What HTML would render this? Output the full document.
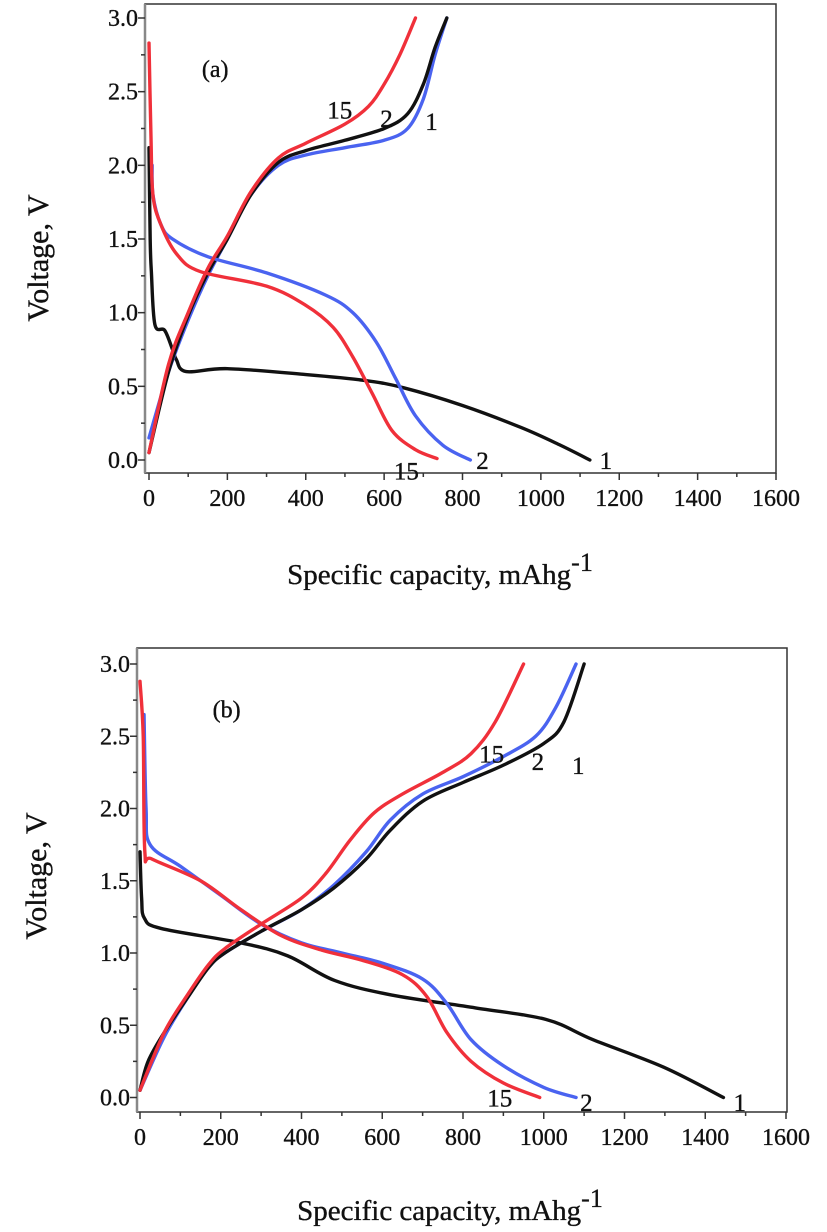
<!DOCTYPE html>
<html><head><meta charset="utf-8"><style>
html,body{margin:0;padding:0;background:#fff}
svg{display:block}
text{font-family:"Liberation Serif",serif;fill:#111;stroke:#111;stroke-width:0.35}
</style></head><body>
<svg id="chart" width="827" height="1232" viewBox="0 0 827 1232" xmlns="http://www.w3.org/2000/svg"></svg>
<script>
// ---- data (capacity mAh/g, voltage V) ----
const xTicks=[0,200,400,600,800,1000,1200,1400,1600];
const yTicks=[0.0,0.5,1.0,1.5,2.0,2.5,3.0];
// Panel a
const aDis1Cap=[0,3,6,15,40,60,70,95,200,400,550,650,800,950,1050,1125];
const aDis1V=[2.12,1.5,1.28,0.92,0.88,0.75,0.68,0.6,0.62,0.58,0.54,0.49,0.37,0.22,0.1,0.0];
const aCha1Cap=[0,50,100,150,200,260,330,400,500,600,660,700,730,760];
const aCha1V=[0.05,0.6,0.98,1.27,1.5,1.8,2.02,2.1,2.17,2.25,2.35,2.55,2.8,3.0];
const aCha2Cap=[0,50,100,150,200,260,330,400,500,600,660,700,730,760];
const aCha2V=[0.15,0.6,0.95,1.25,1.5,1.8,2.0,2.07,2.12,2.17,2.25,2.45,2.75,3.0];
const aCha15Cap=[0,50,100,150,200,260,330,400,500,560,600,640,680];
const aCha15V=[0.05,0.65,1.0,1.3,1.52,1.82,2.05,2.15,2.28,2.4,2.55,2.75,3.0];
const aDis2Cap=[8,10,30,60,150,300,450,520,580,630,680,750,820];
const aDis2V=[2.0,1.8,1.6,1.5,1.38,1.27,1.12,1.0,0.8,0.55,0.3,0.1,0.0];
const aDis15Cap=[0,5,10,30,70,130,300,400,470,520,570,620,680,735];
const aDis15V=[2.83,2.2,1.8,1.6,1.4,1.28,1.18,1.05,0.9,0.7,0.45,0.2,0.07,0.01];
// Panel b
const bDis1Cap=[0,4,11,52,250,366,482,622,831,1006,1122,1297,1445];
const bDis1V=[1.7,1.38,1.24,1.17,1.07,0.98,0.81,0.71,0.62,0.54,0.4,0.21,0.0];
const bCha1Cap=[0,20,60,120,170,210,300,400,480,560,620,700,800,900,1000,1050,1100];
const bCha1V=[0.05,0.25,0.45,0.7,0.9,1.0,1.15,1.3,1.45,1.65,1.85,2.05,2.18,2.3,2.45,2.6,3.0];
const bCha2Cap=[0,60,120,170,210,300,400,480,560,620,700,800,900,980,1030,1080];
const bCha2V=[0.05,0.42,0.7,0.9,1.0,1.15,1.3,1.47,1.7,1.92,2.1,2.22,2.36,2.5,2.7,3.0];
const bCha15Cap=[0,60,120,170,210,300,400,460,520,580,650,750,820,880,950];
const bCha15V=[0.05,0.45,0.72,0.92,1.03,1.2,1.38,1.55,1.78,1.97,2.1,2.25,2.38,2.6,3.0];
const bDis2Cap=[10,15,25,100,200,300,400,500,600,700,760,820,900,1000,1080];
const bDis2V=[2.65,2.0,1.75,1.6,1.4,1.2,1.07,1.0,0.93,0.82,0.65,0.4,0.22,0.07,0.0];
const bDis15Cap=[0,8,12,30,150,250,350,450,550,650,710,760,820,900,990];
const bDis15V=[2.88,2.5,1.7,1.65,1.5,1.3,1.12,1.02,0.95,0.85,0.7,0.45,0.25,0.1,0.0];

const NS="http://www.w3.org/2000/svg";
const svg=document.getElementById('chart');
function mk(tag,attrs,parent){const e=document.createElementNS(NS,tag);for(const k in attrs)e.setAttribute(k,attrs[k]);(parent||svg).appendChild(e);return e;}
function smooth(pts){let d="M"+pts[0][0]+","+pts[0][1];for(let i=0;i<pts.length-1;i++){const p0=pts[i-1]||pts[i],p1=pts[i],p2=pts[i+1],p3=pts[i+2]||p2;
const c1x=p1[0]+(p2[0]-p0[0])/6,c1y=p1[1]+(p2[1]-p0[1])/6,c2x=p2[0]-(p3[0]-p1[0])/6,c2y=p2[1]-(p3[1]-p1[1])/6;
d+=` C${c1x},${c1y} ${c2x},${c2y} ${p2[0]},${p2[1]}`;}return d;}

function panel(cfg){
  const g=mk('g',{});
  
  
  const X=v=>cfg.x0+(v/1600)*(cfg.x1-cfg.x0);
  const Y=v=>cfg.y0-(v/3)*(cfg.y0-cfg.y3);
  const fr=mk('rect',{x:cfg.fl,y:cfg.ft,width:cfg.fr-cfg.fl,height:cfg.fb-cfg.ft,fill:'none',stroke:'#333','stroke-width':1.5},g);
  
  
  const ya=mk('line',{x1:cfg.fl,y1:cfg.ft,x2:cfg.fl,y2:cfg.fb,stroke:'#888','stroke-width':2.5},g);
  
  
  for(let v=0;v<=1600;v+=100){const major=v%200===0;mk('line',{x1:X(v),x2:X(v),y1:cfg.fb,y2:cfg.fb+(major?7:4),stroke:'#333','stroke-width':1.5},g);}
  xTicks.forEach(v=>{const t=mk('text',{x:X(v),y:cfg.fb+33,'text-anchor':'middle','font-size':24},g);t.textContent=v;
    
    });
  for(let v=0;v<=3.0001;v+=0.25){const major=Math.abs(v*2-Math.round(v*2))<1e-6;mk('line',{x1:cfg.fl-(major?7:4),x2:cfg.fl,y1:Y(v),y2:Y(v),stroke:'#333','stroke-width':1.5},g);}
  yTicks.forEach(v=>{const t=mk('text',{x:cfg.fl-7,y:Y(v)+8,'text-anchor':'end','font-size':24},g);t.textContent=v.toFixed(1);
    
    });
  cfg.series.forEach(s=>{const pts=s.c.map((c,i)=>[X(c),Y(s.v[i])]);
    const p=mk('path',{d:smooth(pts),fill:'none',stroke:s.col,'stroke-width':3.4,'stroke-linejoin':'round','stroke-linecap':'round'},g);
    
    });
  cfg.labels.forEach(l=>{const t=mk('text',{x:X(l[0]),y:Y(l[1])+9,'font-size':25},g);t.textContent=l[2];
    
    });
  const pl=mk('text',{x:X(cfg.tag[0]),y:Y(cfg.tag[1]),'font-size':24},g);pl.textContent=cfg.tag[2];
  
  
  const xt=mk('text',{x:cfg.xtx,y:cfg.xty,'text-anchor':'middle','font-size':29},g);
  xt.innerHTML='Specific capacity, mAhg<tspan dy="-13" font-size="26">-1</tspan>';
  
  
  const yt=mk('text',{x:0,y:0,'text-anchor':'middle','font-size':30,transform:`translate(${cfg.ytx},${cfg.yty}) rotate(-90)`},g);
  yt.textContent='Voltage, V';
  
  
}
const K='#111',B='#4a63f0',R='#f0303a';
panel({name:'panel-a',x0:149,x1:776,y0:460,y3:18,fl:145,fr:776,ft:4,fb:473,xtx:440,xty:584,ytx:48,yty:258,
 tag:[135,2.6,'(a)'],
 series:[{n:'cycle1-discharge',c:aDis1Cap,v:aDis1V,col:K},{n:'cycle2-charge',c:aCha2Cap,v:aCha2V,col:B},{n:'cycle1-charge',c:aCha1Cap,v:aCha1V,col:K},
  {n:'cycle2-discharge',c:aDis2Cap,v:aDis2V,col:B},{n:'cycle15-charge',c:aCha15Cap,v:aCha15V,col:R},{n:'cycle15-discharge',c:aDis15Cap,v:aDis15V,col:R}],
 labels:[[455,2.38,'15'],[590,2.32,'2'],[705,2.3,'1'],[625,-0.07,'15'],[835,0.0,'2'],[1150,0.0,'1']]});
panel({name:'panel-b',x0:140,x1:786,y0:1097.5,y3:664,fl:137,fr:787,ft:648,fb:1112,xtx:450,xty:1220,ytx:46,yty:876,
 tag:[180,2.63,'(b)'],
 series:[{n:'cycle1-discharge',c:bDis1Cap,v:bDis1V,col:K},{n:'cycle2-charge',c:bCha2Cap,v:bCha2V,col:B},{n:'cycle1-charge',c:bCha1Cap,v:bCha1V,col:K},
  {n:'cycle2-discharge',c:bDis2Cap,v:bDis2V,col:B},{n:'cycle15-charge',c:bCha15Cap,v:bCha15V,col:R},{n:'cycle15-discharge',c:bDis15Cap,v:bDis15V,col:R}],
 labels:[[840,2.38,'15'],[970,2.33,'2'],[1070,2.3,'1'],[860,0.0,'15'],[1090,-0.03,'2'],[1470,-0.03,'1']]});
</script>
</body></html>
